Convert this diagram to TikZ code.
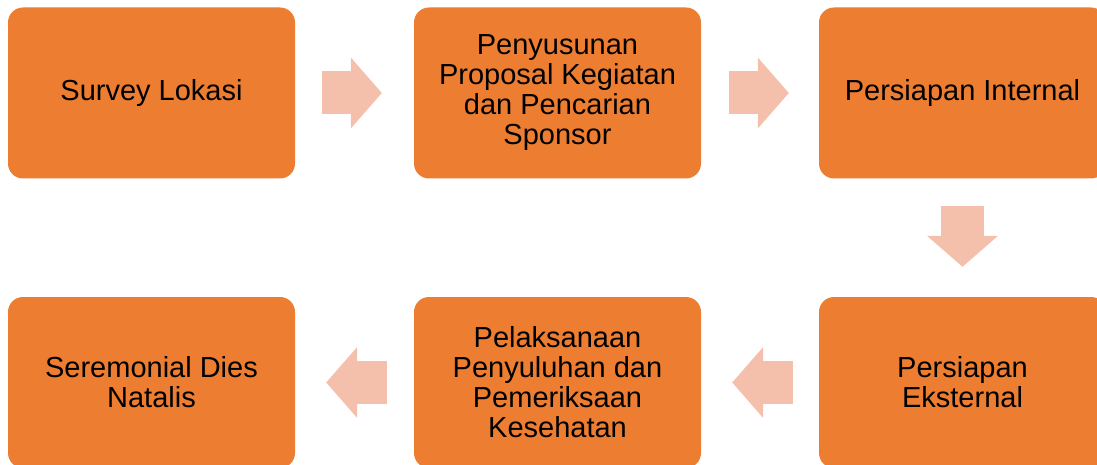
\documentclass[tikz,border=0pt]{standalone}
\usepackage{fontspec}
\setmainfont{Liberation Sans}
\usepackage{tikz}
\usetikzlibrary{arrows.meta}
\definecolor{boxorange}{HTML}{ED7D31}
\definecolor{arrowpeach}{HTML}{F4C0AB}

\begin{document}
\begin{tikzpicture}[x=1pt, y=-1pt, font=\fontsize{29}{30}\selectfont]
	\useasboundingbox (0,0) rectangle (1097,465);
	\clip (0,0) rectangle (1097,465);
      \tikzstyle{step box} = [fill=boxorange, rounded corners=15pt, minimum width=287pt, minimum height=171pt, align=center, inner sep=0pt, text=black]
      \tikzstyle{flow arrow} = [draw=arrowpeach, line width=43pt, -{Triangle[length=31pt, width=71pt, line width=0pt]}]
      \node (survey) at (151.5,93) [step box] {Survey Lokasi};
      \node (proposal) at (557.5,93) [step box] {Penyusunan\\Proposal Kegiatan\\dan Pencarian\\Sponsor};
      \node (internal) at (962.5,93) [step box] {Persiapan Internal};
      \node (eksternal) at (962.5,382.5) [step box] {Persiapan\\Eksternal};
      \node (pelaksanaan) at (557.5,382.5) [step box] {Pelaksanaan\\Penyuluhan dan\\Pemeriksaan\\Kesehatan};
      \node (dies) at (151.5,382.5) [step box] {Seremonial Dies\\Natalis};
      \draw[flow arrow] ([xshift=27pt]survey.east) -- ([xshift=-32pt]proposal.west);
      \draw[flow arrow] ([xshift=28pt]proposal.east) -- ([xshift=-30pt]internal.west);
      \draw[flow arrow] ([yshift=-27pt]internal.south) -- ([yshift=30pt]eksternal.north);
      \draw[flow arrow] ([xshift=-26pt]eksternal.west) -- ([xshift=31pt]pelaksanaan.east);
      \draw[flow arrow] ([xshift=-27pt]pelaksanaan.west) -- ([xshift=31pt]dies.east);
    \end{tikzpicture}
\end{document}
